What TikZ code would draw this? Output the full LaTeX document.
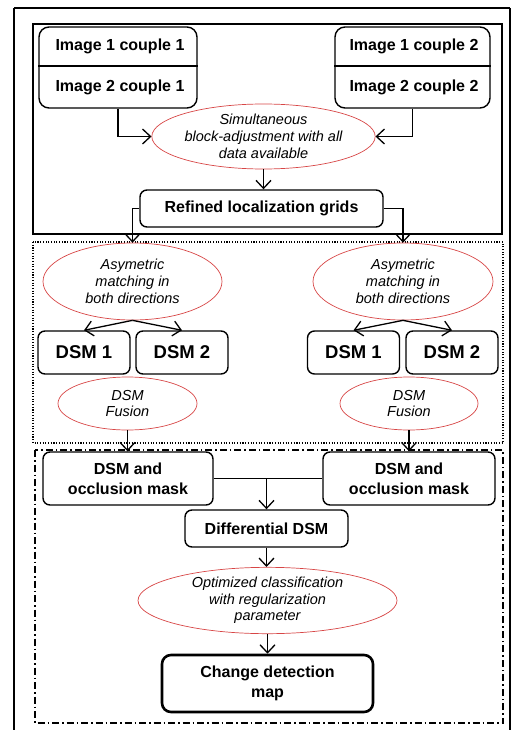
\documentclass[tikz,border=0pt]{standalone}
\usepackage{fontspec}
\setmainfont{Liberation Sans}
\usetikzlibrary{shapes.geometric,arrows.meta,calc}
\definecolor{ellred}{RGB}{215,70,70}
\begin{document}
\begin{tikzpicture}[x=1pt,y=-1pt,
  bbox/.style={draw, rounded corners=7pt, line width=1.4pt, inner sep=0pt, align=center, font=\bfseries\fontsize{16}{20}\selectfont},
  ell/.style={ellipse, draw=ellred, line width=0.7pt, inner sep=0pt, align=center, font=\itshape\fontsize{14.5}{16.7}\selectfont},
  arr/.style={line width=1.3pt, -{Straight Barb[length=8pt,width=15pt,line width=1.3pt]}},
  lab/.style={inner sep=0pt, font=\bfseries\fontsize{16}{20}\selectfont},
  frame/.style={line width=1.4pt}]
\useasboundingbox (0,0) rectangle (524,730);
% frames
\draw[frame] (14,8) -- (14,732) (510,8) -- (510,732) (14,8) -- (510,8);
\draw[frame] (33,24) rectangle (502,234);
\draw[line width=1.1pt, dash pattern=on 1.1pt off 1.6pt] (33,242) rectangle (503,443);
\draw[line width=1.3pt, dash pattern=on 7pt off 3pt on 1.5pt off 3pt] (35,450) rectangle (503,723);
% image boxes
\node[bbox, rounded corners=10pt, minimum width=158pt, minimum height=81pt] (c1) at (118,67.5) {};
\node[lab] (t11) at (120,46.5) {Image 1 couple 1};
\node[lab] (t21) at (120,87) {Image 2 couple 1};
\draw[frame] (c1.west |- 0,66) -- (c1.east |- 0,66);
\node[bbox, rounded corners=10pt, minimum width=155pt, minimum height=81pt] (c2) at (412.5,67.5) {};
\node[lab] (t12) at (414,46.5) {Image 1 couple 2};
\node[lab] (t22) at (414,87) {Image 2 couple 2};
\draw[frame] (c2.west |- 0,66) -- (c2.east |- 0,66);
% simultaneous
\node[ell, minimum width=213pt, minimum height=65pt] (sim) at (263.5,136.5) {Simultaneous\\block-adjustment with all\\data available};
\draw[arr] (c1.south) |- (sim.west);
\draw[arr] (c2.south) |- (sim.east);
% refined
\node[bbox, minimum width=243pt, minimum height=37pt] (ref) at (261.5,208.5) {Refined localization grids};
\draw[arr] (sim.south) -- (sim.south |- ref.north);
% asymmetric
\node[ell, minimum width=179pt, minimum height=77pt] (asl) at (132.5,281.5) {Asymetric\\matching in\\both directions};
\node[ell, minimum width=180pt, minimum height=77pt] (asr) at (403,281.5) {Asymetric\\matching in\\both directions};
\draw[arr] (ref.west) -| (asl.north);
\draw[arr] (ref.east) -| (asr.north);
% DSM boxes
\tikzset{dsm/.style={bbox, minimum width=92pt, minimum height=43pt, font=\bfseries\fontsize{18.5}{20}\selectfont}}
\node[dsm] (l1) at (84,352.5) {DSM 1};
\node[dsm] (l2) at (182,352.5) {DSM 2};
\node[dsm] (r1) at (353.5,352.5) {DSM 1};
\node[dsm] (r2) at (452,352.5) {DSM 2};
\draw[arr] (asl.south) -- (l1.north);
\draw[arr] (asl.south) -- (l2.north);
\draw[arr] (asr.south) -- (r1.north);
\draw[arr] (asr.south) -- (r2.north);
% fusion
\node[ell, minimum width=139pt, minimum height=53pt] (fl) at (127.5,403.5) {DSM\\Fusion};
\node[ell, minimum width=138pt, minimum height=53pt] (fr) at (409,403.5) {DSM\\Fusion};
% occlusion
\node[bbox, minimum width=170pt, minimum height=53pt] (ol) at (128,478.5) {DSM and\\occlusion mask};
\node[bbox, minimum width=172pt, minimum height=53pt] (or) at (409,478.5) {DSM and\\occlusion mask};
\draw[arr] (fl.south) -- (fl.south |- ol.north);
\draw[arr] (fr.south) -- (fr.south |- or.north);
% differential
\node[bbox, minimum width=163pt, minimum height=37pt] (diff) at (266.5,528.5) {Differential DSM};
\draw[frame] (ol.east) -- (or.west);
\coordinate (mid) at (ol.east -| diff.north);
\draw[arr] (mid) -- (diff.north);
% optimized
\node[ell, minimum width=259pt, minimum height=65pt] (opt) at (267.5,600.5) {Optimized classification\\with regularization\\parameter};
\draw[arr] (diff.south) -- (diff.south |- opt.north);
% change
\node[bbox, line width=2.6pt, rounded corners=9pt, minimum width=211pt, minimum height=57pt] (chg) at (267.5,683.5) {Change detection\\map};
\draw[arr] (opt.south) -- (opt.south |- chg.north);
\end{tikzpicture}
\end{document}
